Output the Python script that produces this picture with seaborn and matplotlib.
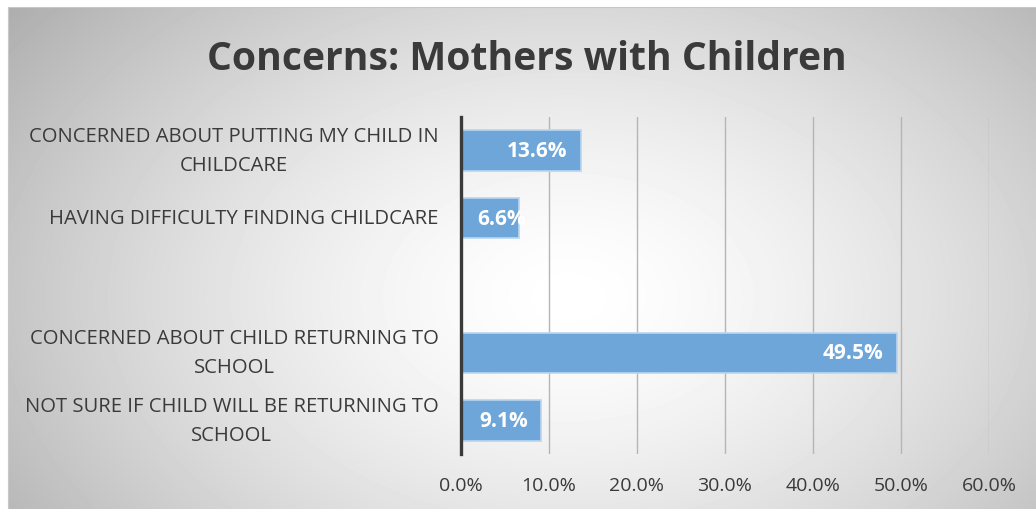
import numpy as np
import pandas as pd
import matplotlib
matplotlib.use("Agg")
import matplotlib.pyplot as plt
import seaborn as sns

# chart data
categories = [
    "CONCERNED ABOUT PUTTING MY CHILD IN\nCHILDCARE",
    "HAVING DIFFICULTY FINDING CHILDCARE",
    " ",
    "CONCERNED ABOUT CHILD RETURNING TO\nSCHOOL",
    "NOT SURE IF CHILD WILL BE RETURNING TO\nSCHOOL",
]
bar_categories = [categories[0], categories[1], categories[3], categories[4]]
values = [13.6, 6.6, 49.5, 9.1]
x_ticks = [0, 10, 20, 30, 40, 50, 60]

TEXT = "#3a3a3a"
BAR = "#6ea6da"


def make_frame():
    return pd.DataFrame({"Concern": bar_categories, "Share": values})


def draw_background(fig):
    bg = fig.add_axes([8 / 1036, 0, 1 - 8 / 1036, 1 - 8 / 510], zorder=-10)
    h, w = 502, 1028
    yy, xx = np.mgrid[0:h, 0:w]
    r = np.sqrt(((xx - 560) / 600) ** 2 + ((yy - 290) / 400) ** 2)
    shade = 1 - 0.25 * np.clip(r, 0, 1.2) ** 1.5
    bg.imshow(shade, cmap="gray", vmin=0, vmax=1, aspect="auto",
              interpolation="bilinear")
    bg.set_axis_off()
    fig.add_artist(plt.Line2D([8 / 1036, 8 / 1036, 1], [0, 1 - 8 / 510, 1 - 8 / 510],
                              color="#c8c8c8", lw=0.8, transform=fig.transFigure))


def plot_concerns(df):
    fig = plt.figure(figsize=(10.36, 5.10), dpi=100)
    fig.patch.set_facecolor("white")
    draw_background(fig)

    ax = fig.add_axes([461 / 1036, 1 - 455 / 510, (989 - 461) / 1036, (455 - 118) / 510])
    ax.set_facecolor("none")
    sns.barplot(data=df, y="Concern", x="Share", order=categories, orient="h",
                color=BAR, saturation=1, width=0.6, edgecolor="#b9d6f0",
                linewidth=1.2, ax=ax, zorder=3)

    for patch, v in zip([p for p in ax.patches], values):
        y = patch.get_y() + patch.get_height() / 2
        if patch.get_width() < 8:
            # short bar: label starts inside and runs past the end, clipped by the bar
            t = ax.text(1.9, y, f"{v:.1f}%", ha="left", va="center", color="white",
                        fontsize=15, fontweight="bold", zorder=4)
            t.set_clip_path(patch)
        else:
            ax.text(patch.get_x() + patch.get_width() - 1.5, y, f"{v:.1f}%",
                    ha="right", va="center", color="white", fontsize=15,
                    fontweight="bold", zorder=4)

    ax.set_xlim(0, 60)
    ax.set_xticks(x_ticks)
    ax.set_xticklabels([f"{t:.1f}%" for t in x_ticks])
    ax.grid(axis="x", color="#b5b5b5", lw=1.0, zorder=1)
    ax.set_axisbelow(True)
    ax.set_xlabel("")
    ax.set_ylabel("")
    for side in ["top", "right", "bottom"]:
        ax.spines[side].set_visible(False)
    ax.spines["left"].set_color(TEXT)
    ax.spines["left"].set_linewidth(2.4)
    ax.spines["left"].set_zorder(5)

    ax.tick_params(axis="x", length=0, pad=16, labelsize=14, labelcolor=TEXT)
    ax.tick_params(axis="y", length=0, pad=16, labelsize=14.6, labelcolor=TEXT)
    for lab in ax.get_yticklabels():
        lab.set_multialignment("center")
        lab.set_linespacing(1.6)
        lab.set_verticalalignment("center")

    fig.text(527 / 1036, 1 - 60 / 510, "Concerns: Mothers with Children",
             ha="center", va="center", fontsize=28.2, fontweight="bold", color=TEXT)

    fig.savefig("out.png", dpi=100)


def main():
    sns.set_style("white")
    plt.rcParams["font.family"] = ["Open Sans", "DejaVu Sans"]
    df = make_frame()
    plot_concerns(df)


if __name__ == "__main__":
    main()
